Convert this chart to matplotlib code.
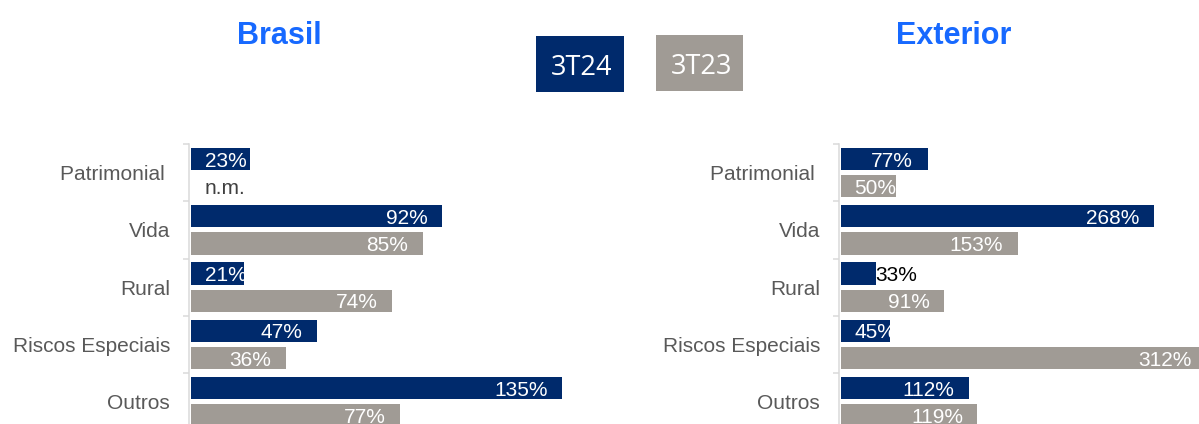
import matplotlib
matplotlib.use('Agg')
import matplotlib.pyplot as plt
import numpy as np
from matplotlib.patches import Rectangle

# ---------------- data ----------------
categories = ['Patrimonial ', 'Vida', 'Rural', 'Riscos Especiais', 'Outros']
series_names = ['3T24', '3T23']
panel_titles = ['Brasil', 'Exterior']

brasil_3t24 = [23, 92, 21, 47, 135]
brasil_3t23 = [np.nan, 85, 74, 36, 77]      # n.m. for Patrimonial
exterior_3t24 = [77, 268, 33, 45, 112]
exterior_3t23 = [50, 153, 91, 312, 119]

# ---------------- style ----------------
W, H = 1199, 424
NAVY = '#002A6C'
GREY = '#A09B95'
TITLE_BLUE = '#1769FF'
CAT_COLOR = '#595959'
SPINE = '#D9D9D9'
FONT = 'Liberation Sans'
PX2PT = 72 / 100

fig = plt.figure(figsize=(W / 100, H / 100), dpi=100)


def fx(px):
    return px / W


def fy(py):
    return 1 - py / H


def make_panel(axes_left_px, axes_right_px, zero_px, px_per_unit, s24, s23, title, title_x, outside_labels):
    top_px, bottom_px = 144, 430.5
    ax = fig.add_axes([fx(axes_left_px), fy(bottom_px), (axes_right_px - axes_left_px) / W,
                       (bottom_px - top_px) / H])
    xmin = (axes_left_px - zero_px) / px_per_unit
    xmax = (axes_right_px - zero_px) / px_per_unit
    ax.set_xlim(xmin, xmax)
    ax.set_ylim(len(categories) - 0.5, -0.5)
    y = np.arange(len(categories))
    off24, off23, h = -0.238, 0.235, 0.39
    ax.barh(y + off24, s24, height=h, color=NAVY, left=0)
    ax.barh(y + off23, np.nan_to_num(s23), height=h, color=GREY, left=0)

    for spine in ['top', 'right', 'bottom']:
        ax.spines[spine].set_visible(False)
    ax.spines['left'].set_color(SPINE)
    ax.spines['left'].set_linewidth(1.5 * PX2PT)
    ax.spines['left'].set_position(('outward', 2 * PX2PT))
    ax.set_xticks([])
    ax.set_yticks(y)
    ax.set_yticklabels(categories, fontsize=15, color=CAT_COLOR, fontfamily=FONT)
    ax.tick_params(axis='y', which='major', length=0, pad=19 * PX2PT)
    ax.set_yticks(np.arange(-0.5, len(categories) + 0.5, 1), minor=True)
    ax.tick_params(axis='y', which='minor', length=6 * PX2PT, width=1.5 * PX2PT, color=SPINE)
    ax.patch.set_visible(False)

    for si, (vals, off) in enumerate([(s24, off24), (s23, off23)]):
        for i, v in enumerate(vals):
            yy = y[i] + off
            if np.isnan(v):
                ax.annotate('n.m.', xy=(xmin, yy), xytext=(13.5 * PX2PT, 0), textcoords='offset points',
                            ha='left', va='center_baseline', fontsize=15, color='#404040', fontfamily=FONT,
                            annotation_clip=False)
                continue
            txt = f'{v:.0f}%'
            bar_px = v * px_per_unit - (axes_left_px - zero_px)
            if (si, i) in outside_labels:
                ax.annotate(txt, xy=(v, yy), xytext=(0, 0), textcoords='offset points',
                            ha='left', va='center_baseline', fontsize=15, color='black', fontfamily=FONT,
                            annotation_clip=False)
            elif bar_px < 70:
                t = ax.annotate(txt, xy=(xmin, yy), xytext=(13.5 * PX2PT, 0), textcoords='offset points',
                                ha='left', va='center_baseline', fontsize=15, color='white', fontfamily=FONT,
                                annotation_clip=False)
            else:
                ax.annotate(txt, xy=(v, yy), xytext=(-14.5 * PX2PT, 0), textcoords='offset points',
                            ha='right', va='center_baseline', fontsize=15, color='white', fontfamily=FONT,
                            annotation_clip=False)

    fig.text(fx(title_x), fy(44.3), title, ha='center', va='baseline', fontsize=22,
             fontweight='bold', color=TITLE_BLUE, fontfamily=FONT)
    return ax


make_panel(191, 615, 185.7, 2.789, brasil_3t24, brasil_3t23, panel_titles[0], 279, set())
make_panel(841, 1225, 836.4, 1.185, exterior_3t24, exterior_3t23, panel_titles[1], 953.3, {(0, 2)})

# legend boxes
legend_boxes = [(536, 624, 36, 92, NAVY, 581.5, 75), (656, 743, 35, 91, GREY, 701.3, 74)]
for (x0, x1, y0, y1, col, tx, ty), name in zip(legend_boxes, series_names):
    fig.patches.append(Rectangle((fx(x0), fy(y1)), (x1 - x0) / W, (y1 - y0) / H,
                                 transform=fig.transFigure, facecolor=col, edgecolor='none'))
    fig.text(fx(tx), fy(ty), name, ha='center', va='baseline', fontsize=19.5,
             color='white', fontfamily='Open Sans')

fig.savefig('out.png', dpi=100)
